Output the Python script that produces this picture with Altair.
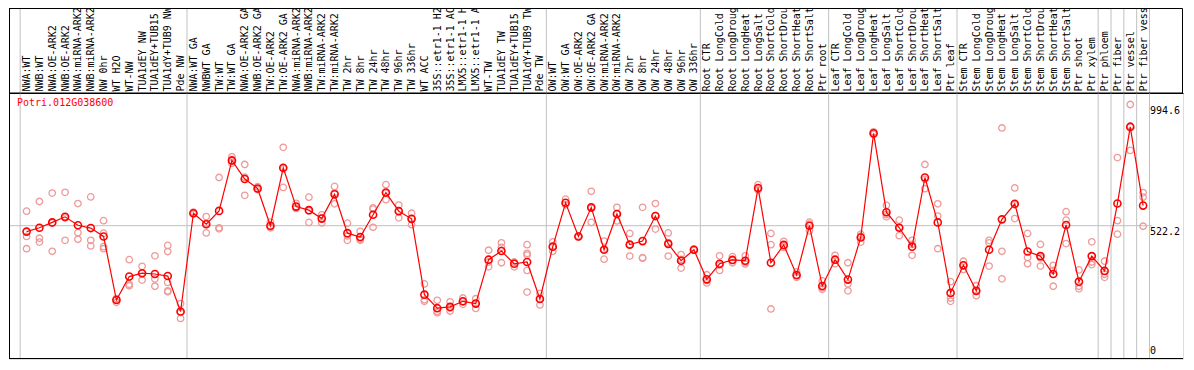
import json
import altair as alt
import pandas as pd

gene = "Potri.012G038600"

names = [
    "NWA:WT", "NWB:WT", "NWA:OE-ARK2", "NWB:OE-ARK2", "NWA:miRNA-ARK2", "NWB:miRNA-ARK2",
    "NW 0hr", "WT H2O", "WT-NW", "TUA1dEY NW", "TUA1dEY+TUB15 NW", "TUA1dY+TUB9 NW", "Pde NW",
    "NWA:WT GA", "NWBWT GA", "TW:WT", "TW:WT GA", "NWA:OE-ARK2 GA", "NWB:OE-ARK2 GA",
    "TW:OE-ARK2", "TW:OE-ARK2 GA", "NWA:miRNA-ARK2 GA", "NWB:miRNA-ARK2 GA", "TW:miRNA-ARK2",
    "TW:miRNA-ARK2 GA", "TW 2hr", "TW 8hr", "TW 24hr", "TW 48hr", "TW 96hr", "TW 336hr",
    "WT ACC", "35S::etr1-1 H2O", "35S::etr1-1 ACC", "LMX5::etr1-1 H2O", "LMX5::etr1-1 ACC",
    "WT-TW", "TUA1dEY TW", "TUA1dEY+TUB15 TW", "TUA1dY+TUB9 TW", "Pde TW",
    "OW:WT", "OW:WT GA", "OW:OE-ARK2", "OW:OE-ARK2 GA", "OW:miRNA-ARK2", "OW:miRNA-ARK2 GA",
    "OW 2hr", "OW 8hr", "OW 24hr", "OW 48hr", "OW 96hr", "OW 336hr",
    "Root CTR", "Root LongCold", "Root LongDrought", "Root LongHeat", "Root LongSalt",
    "Root ShortCold", "Root ShortDrought", "Root ShortHeat", "Root ShortSalt", "Ptr root",
    "Leaf CTR", "Leaf LongCold", "Leaf LongDrought", "Leaf LongHeat", "Leaf LongSalt",
    "Leaf ShortCold", "Leaf ShortDrought", "Leaf ShortHeat", "Leaf ShortSalt", "Ptr leaf",
    "Stem CTR", "Stem LongCold", "Stem LongDrought", "Stem LongHeat", "Stem LongSalt",
    "Stem ShortCold", "Stem ShortDrought", "Stem ShortHeat", "Stem ShortSalt", "Ptr shoot",
    "Ptr xylem", "Ptr phloem", "Ptr fiber", "Ptr vessel", "Ptr fiber vessel",
]

means = [
    499, 514, 535, 557, 524, 513, 480, 231, 323, 336, 333, 325, 186,
    571, 528, 580, 778, 705, 668, 522, 749, 597, 583, 550, 645, 493, 478, 565, 652, 579, 549,
    252, 199, 204, 226, 217, 389, 423, 373, 380, 235,
    440, 612, 480, 594, 428, 568, 448, 462, 560, 451, 385, 428,
    312, 373, 388, 385, 670, 377, 447, 329, 522, 286,
    389, 311, 476, 884, 575, 514, 440, 711, 535, 259,
    367, 267, 428, 547, 608, 421, 403, 333, 525, 303, 403,
    345, 609, 909, 601,
]

reps = [
    [579, 480, 432], [617, 473, 458], [650, 533, 422], [653, 553, 465], [609, 495, 469],
    [635, 465, 443], [542, 493, 440, 432], [235, 222, 236], [389, 287, 293], [363, 309, 336],
    [404, 314, 285], [445, 421, 300, 267, 263], [217, 159, 182],
    [575, 568, 570], [558, 494, 532], [711, 514, 510], [792, 775, 767], [762, 641, 712],
    [675, 665, 664], [536, 514, 516], [829, 672, 746], [610, 591, 590], [634, 535, 580],
    [565, 533, 552], [676, 608, 651], [532, 465, 482], [500, 465, 470], [587, 516, 592],
    [683, 624, 649], [603, 553, 581], [571, 526, 550], [294, 232, 226], [230, 181, 186],
    [224, 188, 200], [239, 214, 225], [236, 198, 217], [426, 361, 380], [455, 377, 437],
    [379, 361, 379], [448, 414, 407, 347, 262], [257, 212, 236],
    [459, 422, 439], [626, 605, 605], [480, 478, 482], [657, 535, 590], [462, 391, 430],
    [594, 541, 569], [492, 403, 449], [594, 395, 397], [609, 509, 562], [494, 403, 456],
    [409, 356, 390], [428, 430, 426],
    [330, 308, 298], [404, 347, 368], [401, 377, 386], [404, 379, 372], [683, 665, 662],
    [492, 448, 196], [461, 437, 443], [341, 320, 326], [536, 502, 528], [306, 279, 273],
    [406, 373, 388], [377, 294, 267], [489, 458, 481], [890, 880, 882], [602, 557, 566],
    [544, 483, 515], [465, 406, 449], [762, 667, 704], [608, 560, 432], [303, 239, 226],
    [383, 351, 367], [287, 248, 266], [465, 364, 455], [905, 422, 314], [670, 550, 604],
    [492, 373, 398], [449, 364, 396], [367, 285, 347], [577, 544, 452], [349, 275, 285],
    [459, 370, 380],
    [383, 320, 332], [789, 542, 489], [997, 817, 913], [652, 634, 520],
]

group_sizes = [13, 28, 12, 10, 10, 11, 1, 1, 1, 1]
ytick_values = [0, 522.2, 994.6]
ytick_labels = ["0", "522.2", "994.6"]

# ---- layout / style ----
W, H, TOP = 1174, 266, 85
X_DOM = [-1.37, 90.11]
Y_DOM = [0, 1042]
RED = "#ff0000"
PINK = "#ee9a9a"
GRAY = "#c0c0c0"
MONO = "DejaVu Sans Mono"

mean_df = pd.DataFrame({"j": list(range(len(names))), "name": names, "v": means})
rep_df = pd.DataFrame([{"j": i, "v": r} for i, rs in enumerate(reps) for r in rs])
bounds = [-0.5]
acc = 0
for g in group_sizes:
    acc += g
    bounds.append(acc - 0.5)
sep_df = pd.DataFrame({"j": bounds})
grid_df = pd.DataFrame({"j": [X_DOM[0]], "j2": [len(names) - 0.3], "v": [ytick_values[1]]})
tick_df = pd.DataFrame({"v": ytick_values, "label": ytick_labels})
one_df = pd.DataFrame({"a": [0]})

xs = alt.Scale(domain=X_DOM, nice=False, zero=False)
ys = alt.Scale(domain=Y_DOM, nice=False, zero=False)
label_expr = "substring(" + json.dumps(names) + "[datum.value], 0, 14)"
xaxis = alt.Axis(
    orient="top", values=list(range(len(names))), labelExpr=label_expr,
    labelAngle=270, labelAlign="left", labelBaseline="middle",
    labelFont=MONO, labelFontSize=10, labelColor="black", labelPadding=2,
    labelOverlap=False, labelFlush=False, labelBound=False, labelLimit=0,
    ticks=False, tickSize=0, grid=False, domain=True, domainColor="black",
    domainWidth=1, title=None,
)


def X(field):
    return alt.X(field, type="quantitative", scale=xs, axis=xaxis)


def Y(field):
    return alt.Y(field, type="quantitative", scale=ys, axis=None)


seps = alt.Chart(sep_df).mark_rule(color=GRAY, strokeWidth=1).encode(
    x=X("j"), y=alt.value(-TOP), y2=alt.value(H)
)
grid = alt.Chart(grid_df).mark_rule(color=GRAY, strokeWidth=1).encode(
    x=X("j"), x2="j2", y=Y("v")
)
rep_pts = alt.Chart(rep_df).mark_point(
    shape="circle", filled=False, color=PINK, size=42, strokeWidth=1.3, opacity=1
).encode(x=X("j"), y=Y("v"))
line = alt.Chart(mean_df).mark_line(color=RED, strokeWidth=1.2).encode(
    x=X("j"), y=Y("v"), order="j"
)
mean_pts = alt.Chart(mean_df).mark_point(
    shape="circle", filled=False, color=RED, size=50, strokeWidth=1.6, opacity=1
).encode(x=X("j"), y=Y("v"))

tick_txt = alt.Chart(tick_df).transform_filter("datum.v > 0").mark_text(
    font=MONO, fontSize=10, color="black", align="left", baseline="top", dy=1
).encode(x=alt.value(W - 33), y=Y("v"), text="label:N")
zero_txt = alt.Chart(tick_df).transform_filter("datum.v == 0").mark_text(
    font=MONO, fontSize=10, color="black", align="left", baseline="bottom", dy=-3
).encode(x=alt.value(W - 33), y=Y("v"), text="label:N")

title_txt = alt.Chart(one_df).mark_text(
    font=MONO, fontSize=10, color=RED, align="left", baseline="top"
).encode(x=alt.value(8), y=alt.value(5), text=alt.value(gene))

label_box = alt.Chart(one_df).mark_rect(
    fill=None, stroke="black", strokeWidth=1
).encode(x=alt.value(0.5), x2=alt.value(W - 0.5), y=alt.value(-TOP + 0.5), y2=alt.value(0))
left_border = alt.Chart(one_df).mark_rule(color="black", strokeWidth=1).encode(
    x=alt.value(0.5), y=alt.value(-TOP), y2=alt.value(H)
)
bottom_border = alt.Chart(one_df).mark_rule(color="black", strokeWidth=1).encode(
    x=alt.value(0), x2=alt.value(W), y=alt.value(H - 0.5)
)

chart = alt.layer(
    seps, grid, rep_pts, line, mean_pts, tick_txt, zero_txt, title_txt,
    label_box, left_border, bottom_border,
).properties(
    width=W, height=H,
    autosize=alt.AutoSizeParams(type="none"),
    padding={"top": TOP, "left": 1, "right": 1, "bottom": 1},
).configure_view(stroke=None).configure(background="white")

chart.save("out.html", embed_options={"renderer": "svg", "actions": False})
